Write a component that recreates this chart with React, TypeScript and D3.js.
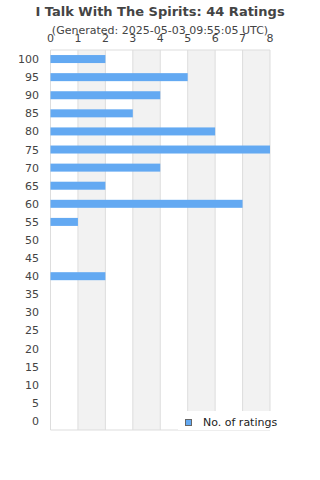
import React from 'react';
import * as d3 from 'd3';

const categories = ['100', '95', '90', '85', '80', '75', '70', '65', '60', '55', '50', '45', '40', '35', '30', '25', '20', '15', '10', '5', '0'];
const ratings = [2, 5, 4, 3, 6, 8, 4, 2, 7, 1, 0, 0, 2, 0, 0, 0, 0, 0, 0, 0, 0];
const xTicks = [0, 1, 2, 3, 4, 5, 6, 7, 8];

export default function App() {
  const width = 320;
  const height = 480;
  const left = 50.5;
  const right = 270;
  const top = 50;
  const bottom = 430;

  const x = d3.scaleLinear().domain([0, 8]).range([left, right]);
  const y = d3.scaleBand().domain(categories).range([top, bottom]);
  const barH = 8;
  const font = 'DejaVu Sans, sans-serif';

  return (
    <div style={{ position: 'absolute', left: 0, top: 0 }}>
      <svg width={width} height={height} style={{ display: 'block', background: '#fff' }}>
        <text x={160} y={16} textAnchor="middle" fontFamily={font} fontSize={13} fontWeight="bold" fill="#444">
          I Talk With The Spirits: 44 Ratings
        </text>
        <text x={160} y={34} textAnchor="middle" fontFamily={font} fontSize={11} fill="#444">
          (Generated: 2025-05-03 09:55:05 UTC)
        </text>
        {xTicks.slice(0, -1).map((t) =>
          t % 2 === 1 ? (
            <rect key={'b' + t} x={x(t)} y={top} width={x(t + 1) - x(t)} height={bottom - top} fill="#f2f2f2" />
          ) : null
        )}
        {xTicks.map((t) => (
          <line key={'g' + t} x1={x(t)} x2={x(t)} y1={top} y2={bottom} stroke="#ddd" strokeWidth={1} />
        ))}
        <line x1={left} x2={right} y1={top} y2={top} stroke="#ddd" />
        <line x1={left} x2={right} y1={bottom} y2={bottom} stroke="#ddd" />
        {xTicks.map((t) => (
          <text key={'x' + t} x={x(t)} y={42} textAnchor="middle" fontFamily={font} fontSize={11} fill="#444">
            {t}
          </text>
        ))}
        {categories.map((c) => (
          <text key={'y' + c} x={39} y={(y(c) ?? 0) + y.bandwidth() / 2 + 4} textAnchor="end" fontFamily={font} fontSize={11} fill="#444">
            {c}
          </text>
        ))}
        {categories.map((c, i) =>
          ratings[i] > 0 ? (
            <rect key={'r' + c} x={x(0)} y={(y(c) ?? 0) + y.bandwidth() / 2 - barH / 2} width={x(ratings[i]) - x(0)} height={barH} fill="#63a9f2" />
          ) : null
        )}
        <rect x={178} y={411} width={142} height={19} fill="#fff" />
        <rect x={185.5} y={419.5} width={6} height={6} fill="#63a9f2" stroke="#666" strokeWidth={1} />
        <text x={203} y={426} fontFamily={font} fontSize={11} fill="#222">
          No. of ratings
        </text>
      </svg>
    </div>
  );
}
